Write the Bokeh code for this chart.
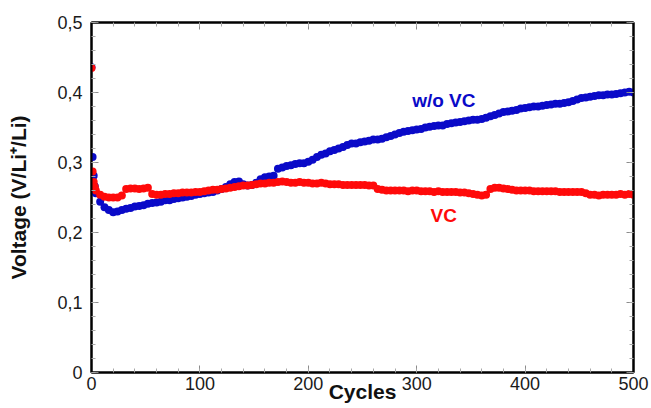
from bokeh.plotting import figure
from bokeh.models import Range1d, LinearAxis, FixedTicker, CustomJSTickFormatter, Label
from bokeh.embed import file_html
from bokeh.resources import INLINE

# ---- data ----
cycles = [0, 1, 2, 3] + list(range(4, 501, 4))

voltage_wo_vc = [0.436, 0.308, 0.281, 0.266,
    0.256, 0.244, 0.236, 0.232, 0.229, 0.230, 0.232, 0.234, 0.235, 0.237,
    0.238, 0.239, 0.241, 0.242, 0.243, 0.244, 0.246, 0.246, 0.248, 0.249,
    0.250, 0.251, 0.252, 0.254, 0.255, 0.256, 0.257, 0.258, 0.260, 0.262,
    0.265, 0.269, 0.272, 0.273, 0.269, 0.267, 0.268, 0.271, 0.276, 0.279,
    0.280, 0.281, 0.291, 0.293, 0.295, 0.296, 0.298, 0.299, 0.299, 0.301,
    0.304, 0.308, 0.311, 0.313, 0.316, 0.318, 0.320, 0.322, 0.325, 0.327,
    0.327, 0.329, 0.330, 0.331, 0.333, 0.333, 0.334, 0.336, 0.338, 0.340,
    0.342, 0.344, 0.345, 0.346, 0.347, 0.348, 0.350, 0.351, 0.352, 0.353,
    0.353, 0.355, 0.356, 0.357, 0.358, 0.359, 0.360, 0.361, 0.361, 0.362,
    0.364, 0.366, 0.368, 0.370, 0.372, 0.373, 0.374, 0.375, 0.377, 0.378,
    0.379, 0.380, 0.380, 0.381, 0.382, 0.383, 0.384, 0.384, 0.385, 0.386,
    0.388, 0.390, 0.392, 0.393, 0.394, 0.395, 0.396, 0.396, 0.397, 0.397,
    0.398, 0.399, 0.400, 0.401, 0.400]

voltage_vc = [0.435, 0.287, 0.272, 0.265,
    0.260, 0.254, 0.251, 0.250, 0.250, 0.250, 0.253, 0.262, 0.263, 0.263,
    0.262, 0.263, 0.264, 0.255, 0.254, 0.254, 0.255, 0.255, 0.256, 0.256,
    0.257, 0.257, 0.257, 0.258, 0.258, 0.259, 0.260, 0.261, 0.261, 0.262,
    0.263, 0.264, 0.265, 0.266, 0.267, 0.267, 0.268, 0.269, 0.270, 0.270,
    0.271, 0.271, 0.272, 0.273, 0.272, 0.271, 0.271, 0.272, 0.271, 0.271,
    0.270, 0.270, 0.271, 0.270, 0.269, 0.269, 0.269, 0.268, 0.268, 0.268,
    0.268, 0.268, 0.268, 0.267, 0.267, 0.262, 0.261, 0.260, 0.260, 0.260,
    0.260, 0.260, 0.259, 0.260, 0.260, 0.259, 0.259, 0.259, 0.258, 0.259,
    0.258, 0.258, 0.258, 0.258, 0.257, 0.257, 0.256, 0.255, 0.254, 0.253,
    0.254, 0.262, 0.264, 0.264, 0.263, 0.262, 0.261, 0.260, 0.260, 0.260,
    0.260, 0.259, 0.259, 0.259, 0.259, 0.259, 0.259, 0.258, 0.258, 0.258,
    0.258, 0.258, 0.258, 0.256, 0.254, 0.254, 0.253, 0.254, 0.254, 0.254,
    0.254, 0.255, 0.254, 0.255, 0.254]

x_major = [0, 100, 200, 300, 400, 500]
x_minor = list(range(0, 501, 20))
y_major = [0, 0.1, 0.2, 0.3, 0.4, 0.5]
y_minor = [i / 100 for i in range(0, 51, 2)]

FONT = "Liberation Sans"
BLUE = "#0a0ac8"
RED = "#ff0a0a"

p = figure(width=651, height=408, output_backend="svg", toolbar_location=None,
           x_range=Range1d(0, 500), y_range=Range1d(0, 0.5),
           x_axis_type=None, y_axis_type=None,
           min_border_left=91, min_border_right=18, min_border_top=22, min_border_bottom=36)
p.outline_line_color = "black"
p.outline_line_width = 2
p.background_fill_color = "white"
p.border_fill_color = "white"

def style_axis(ax, labels=True):
    ax.axis_line_color = "black"
    ax.axis_line_width = 2
    ax.major_tick_in = 7
    ax.major_tick_out = 0
    ax.minor_tick_in = 4
    ax.minor_tick_out = 0
    ax.major_tick_line_color = "#8c8c8c"
    ax.minor_tick_line_color = "#a8a8a8"
    ax.major_tick_line_width = 1
    ax.minor_tick_line_width = 1
    if labels:
        ax.major_label_text_font = FONT
        ax.major_label_text_font_size = "18px"
        ax.major_label_text_color = "#1a1a1a"
    else:
        ax.major_label_text_font_size = "1px"
        ax.major_label_text_color = None
        ax.major_label_standoff = 0

xb = LinearAxis(ticker=FixedTicker(ticks=x_major, minor_ticks=x_minor))
style_axis(xb)
xb.major_label_standoff = 4
xb.axis_label = "Cycles"
xb.axis_label_text_font = FONT
xb.axis_label_text_font_size = "21px"
xb.axis_label_text_font_style = "bold"
xb.axis_label_text_color = "#111111"
xb.axis_label_standoff = -13
p.add_layout(xb, "below")

xt = LinearAxis(ticker=FixedTicker(ticks=x_major, minor_ticks=x_minor))
style_axis(xt, labels=False)
p.add_layout(xt, "above")

yfmt = CustomJSTickFormatter(code="return tick < 1e-9 ? '0' : tick.toFixed(1).replace('.', ',');")
yl = LinearAxis(ticker=FixedTicker(ticks=y_major, minor_ticks=y_minor), formatter=yfmt)
style_axis(yl)
yl.major_label_standoff = 9
yl.axis_label = "Voltage (V/Li\u207a/Li)"
yl.axis_label_text_font = FONT
yl.axis_label_text_font_size = "21px"
yl.axis_label_text_font_style = "bold"
yl.axis_label_text_color = "#111111"
yl.axis_label_standoff = 24
p.add_layout(yl, "left")

yr = LinearAxis(ticker=FixedTicker(ticks=y_major, minor_ticks=y_minor))
style_axis(yr, labels=False)
p.add_layout(yr, "right")

p.scatter(cycles, voltage_wo_vc, size=8, color=BLUE, line_color=None)
p.scatter(cycles, voltage_vc, size=8, color=RED, line_color=None)

p.add_layout(Label(x=325, y=0.389, text="w/o VC", text_align="center", text_baseline="middle",
                   text_font=FONT, text_font_size="19px", text_font_style="bold", text_color=BLUE))
p.add_layout(Label(x=325, y=0.224, text="VC", text_align="center", text_baseline="middle",
                   text_font=FONT, text_font_size="19px", text_font_style="bold", text_color=RED))

open("out.html", "w").write(file_html(p, INLINE))
